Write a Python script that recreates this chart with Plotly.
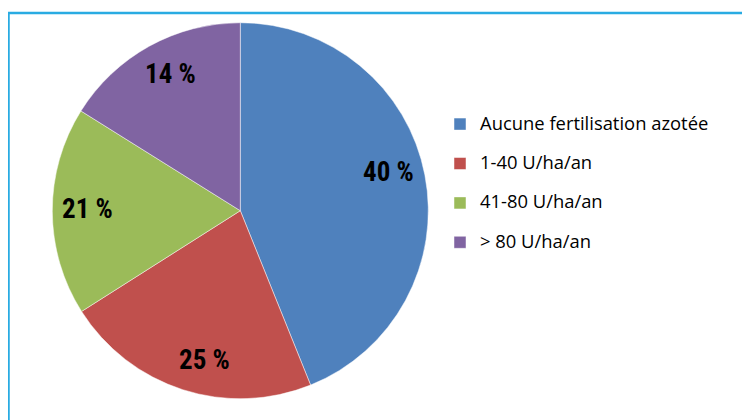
import math
import plotly.graph_objects as go

# Data
categories = ["Aucune fertilisation azotée", "1-40 U/ha/an", "41-80 U/ha/an", "> 80 U/ha/an"]
slice_values = [43.9, 22.1, 17.9, 16.1]      # slice sizes as drawn
label_pct = [40, 25, 21, 14]                 # printed labels
colors = ["#4F81BD", "#C0504D", "#9BBB59", "#8064A2"]

# page has an 8px body margin: work in screen pixels and convert
OFF = 8
W, H = 750 - OFF, 420 - OFF
def px(x):
    return (x - OFF) / W
def py(y):
    return 1 - (y - OFF) / H

cx, cy, R = 240.3, 210.7, 188.0

fig = go.Figure(go.Pie(
    labels=[f'<span style="font-size:18.4px">{c}</span><br> ' for c in categories],
    values=slice_values,
    sort=False,
    direction="clockwise",
    rotation=0,
    textinfo="none",
    hoverinfo="skip",
    marker=dict(colors=colors, line=dict(color="rgba(255,255,255,0.6)", width=0.8)),
    domain=dict(x=[px(cx - R), px(cx + R)], y=[py(cy + R), py(cy - R)]),
))

def mids(vals):
    tot = sum(vals)
    out, acc = [], 0
    for v in vals:
        out.append((acc + v / 2) / tot * 360)
        acc += v
    return out

m1, m2 = mids(slice_values), mids(label_pct)
annotations = []
for a1, a2, p in zip(m1, m2, label_pct):
    ang = math.radians((a1 + a2) / 2)
    r = 0.814 * R
    lx = cx + r * math.sin(ang)
    ly = cy - r * math.cos(ang)
    annotations.append(dict(
        x=px(lx), y=py(ly), xref="paper", yref="paper",
        text=f"{p} %", showarrow=False,
        font=dict(family="Liberation Sans Narrow, Arial Narrow, Roboto Condensed, sans-serif",
                  size=27, color="black", weight="bold"),
        xanchor="center", yanchor="middle",
    ))

fig.update_layout(
    width=W, height=H,
    margin=dict(l=0, r=0, t=0, b=0),
    paper_bgcolor="white",
    plot_bgcolor="white",
    showlegend=True,
    legend=dict(
        x=px(440), y=py(108.5), xanchor="left", yanchor="top",
        font=dict(family="Open Sans, Noto Sans, sans-serif", size=14, color="black"),
        valign="top", itemwidth=30, bgcolor="rgba(0,0,0,0)",
    ),
    annotations=annotations,
    shapes=[dict(type="rect", xref="paper", yref="paper",
                 x0=px(8.5), x1=1.05, y0=-0.05, y1=py(13),
                 line=dict(color="#29ABE2", width=2.5))],
)

fig.write_html("out.html")
